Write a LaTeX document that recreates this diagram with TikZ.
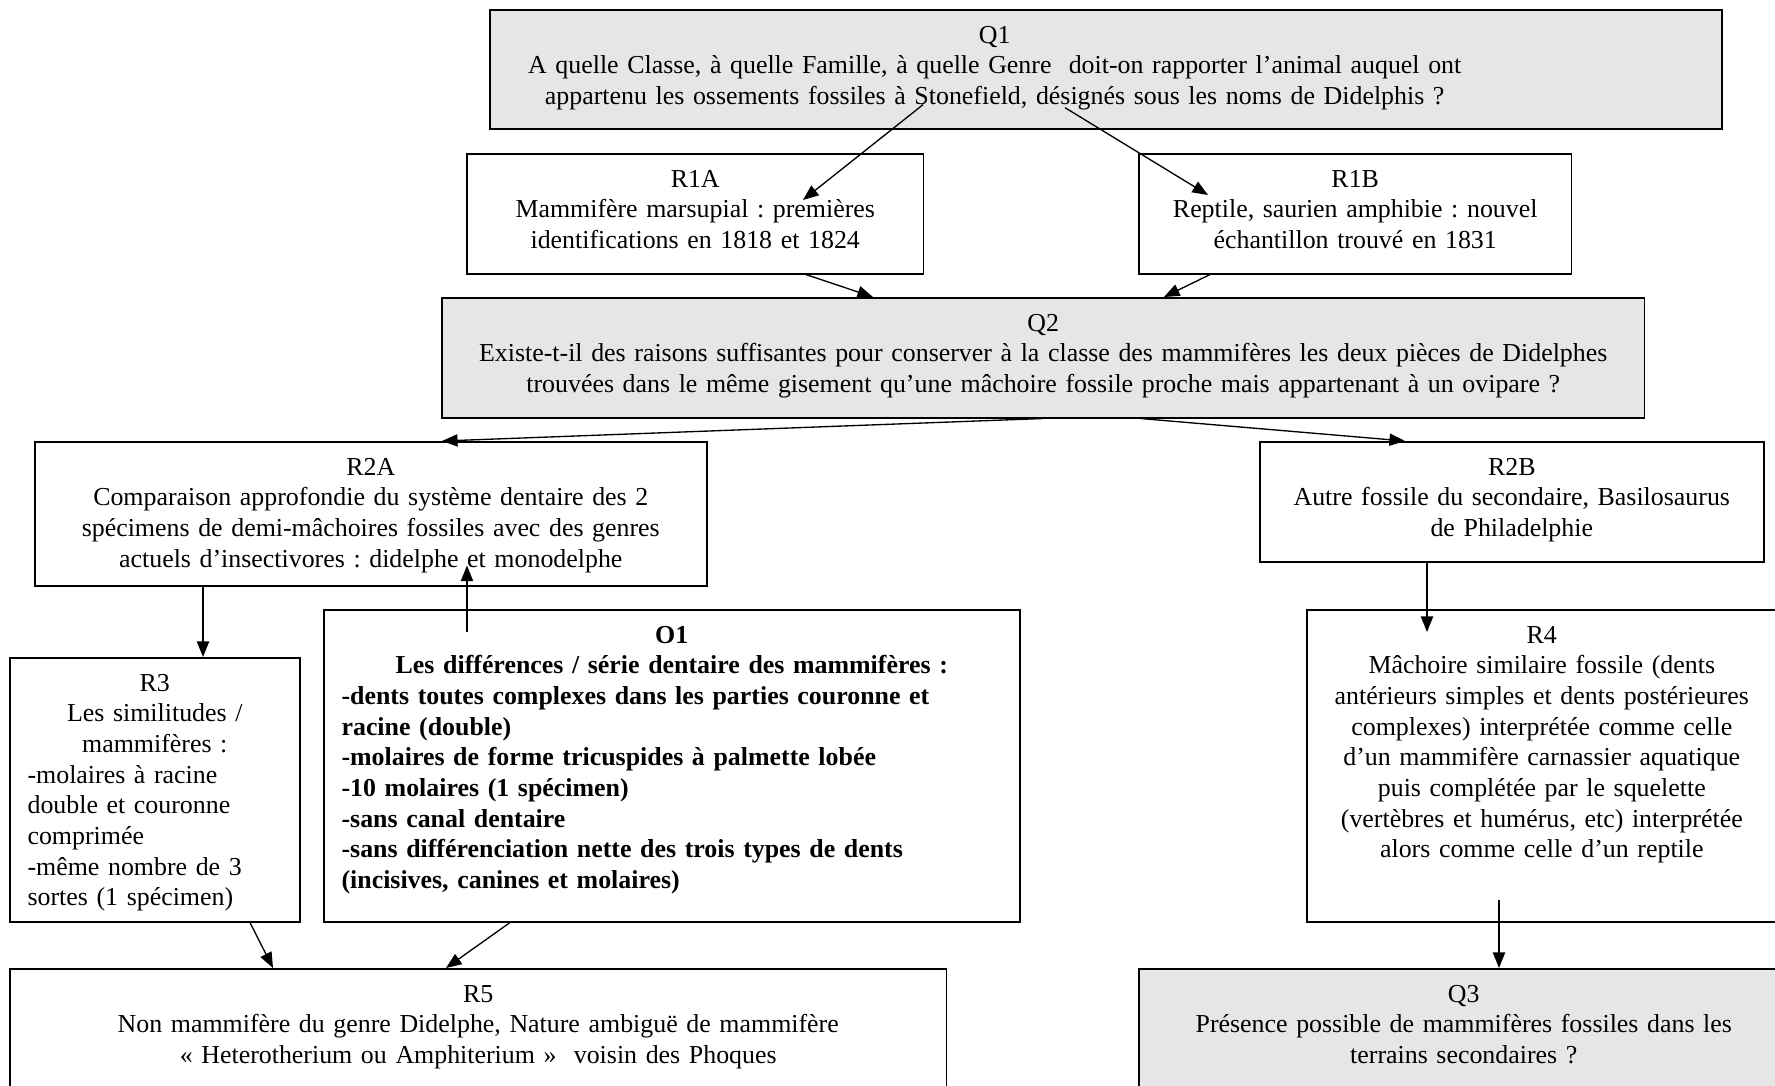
\documentclass[tikz,border=0pt]{standalone}
\usepackage{fontspec}
\setmainfont{Liberation Serif}
\usepackage{tikz}
\usetikzlibrary{arrows.meta}
\definecolor{qgray}{RGB}{230,230,230}
\frenchspacing

\begin{document}
\begin{tikzpicture}[
  x=0.45pt, y=-0.45pt,
  box/.style={draw, line width=0.7pt, anchor=north west, inner xsep=8pt,
              inner ysep=0pt, text height=15pt, align=center,
              font=\fontsize{11.65}{13.8}\selectfont},
  qbox/.style={box, fill=qgray},
  arr/.style={-{Triangle[length=7pt,width=5.5pt]}, line width=0.6pt},
]
\useasboundingbox (0,0) rectangle (1775,1086);
\clip (0,0) rectangle (1775,1086);

% questions and answers
\node[qbox, text width=538.4pt, text depth=38.6pt] (q1) at (489,9)
  {\leftskip=0pt plus 1fil\relax\rightskip=100pt plus 1fil\relax\parfillskip=0pt\relax
   Q1\\A quelle Classe, à quelle Famille, à quelle Genre~ doit-on rapporter l’animal auquel ont\\
   appartenu les ossements fossiles à Stonefield, désignés sous les noms de Didelphis ?\par};
\node[box, text width=189.6pt, text depth=39pt] (r1a) at (466,153)
  {R1A\\Mammifère marsupial : premières\\identifications en 1818 et 1824};
\node[box, text width=178.8pt, text depth=39pt] (r1b) at (1138,153)
  {R1B\\Reptile, saurien amphibie : nouvel\\échantillon trouvé en 1831};
\node[qbox, text width=525.3pt, text depth=39pt] (q2) at (441,297)
  {Q2\\Existe-t-il des raisons suffisantes pour conserver à la classe des mammifères les deux pièces de Didelphes\\
   trouvées dans le même gisement qu’une mâchoire fossile proche mais appartenant à un ovipare ?};
\node[box, text width=286.4pt, text depth=49.8pt] (r2a) at (34,441)
  {R2A\\Comparaison approfondie du système dentaire des 2\\
   spécimens de demi-mâchoires fossiles avec des genres\\
   actuels d’insectivores : didelphe et monodelphe};
\node[box, text width=210.8pt, text depth=39pt] (r2b) at (1259,441)
  {R2B\\Autre fossile du secondaire, Basilosaurus\\de Philadelphie};
\node[box, text width=114.5pt, text depth=103.8pt] (r3) at (9,657)
  {R3\\Les similitudes /\\mammifères :\par\raggedright
   -molaires à racine\\double et couronne\\comprimée\\-même nombre de 3\\sortes (1 spécimen)\par};
\node[box, text width=297.2pt, text depth=125.4pt, font=\fontsize{11.65}{13.8}\selectfont\bfseries] (o1) at (323,609)
  {O1\\Les différences / série dentaire des mammifères :\par\raggedright
   -dents toutes complexes dans les parties couronne et\\racine (double)\\
   -molaires de forme tricuspides à palmette lobée\\-10 molaires (1 spécimen)\\
   -sans canal dentaire\\-sans différenciation nette des trois types de dents\\
   (incisives, canines et molaires)\par};
\node[box, text width=195.5pt, text depth=125.4pt] (r4) at (1306,609)
  {R4\\Mâchoire similaire fossile (dents\\antérieurs simples et dents postérieures\\
   complexes) interprétée comme celle\\d’un mammifère carnassier aquatique\\
   puis complétée par le squelette\\(vertèbres et humérus, etc) interprétée\\
   alors comme celle d’un reptile};
\node[box, text width=405.6pt, text depth=53pt] (r5) at (9,968)
  {R5\\Non mammifère du genre Didelphe, Nature ambiguë de mammifère\\
   « Heterotherium ou Amphiterium »~ voisin des Phoques};
\node[qbox, text width=276.5pt, text depth=53pt] (q3) at (1138,968)
  {Q3\\Présence possible de mammifères fossiles dans les\\terrains secondaires ?};

% links
\draw[arr] ([shift={(434,-25)}]q1.south west) -- ([shift={(337,47)}]r1a.north west);
\draw[arr] ([shift={(576,-22)}]q1.south west) -- ([shift={(70,42)}]r1b.north west);
\draw[arr] ([shift={(340,0)}]r1a.south west) -- ([shift={(432,0)}]q2.north west);
\draw[arr] ([shift={(72,0)}]r1b.south west) -- ([shift={(723,0)}]q2.north west);
\draw[arr] ([shift={(601,0)}]q2.south west) -- ([shift={(408,0)}]r2a.north west);
\draw[arr] ([shift={(700,0)}]q2.south west) -- ([shift={(146,0)}]r2b.north west);
\draw[arr] ([shift={(169,0)}]r2a.south west) -- ([shift={(194,0)}]r3.north west);
\draw[arr] ([shift={(144,23)}]o1.north west) -- ([shift={(433,-21)}]r2a.south west);
\draw[arr] ([shift={(168,0)}]r2b.south west) -- ([shift={(121,23)}]r4.north west);
\draw[arr] ([shift={(193,-23)}]r4.south west) -- ([shift={(361,0)}]q3.north west);
\draw[arr] ([shift={(241,0)}]r3.south west) -- ([shift={(264,0)}]r5.north west);
\draw[arr] ([shift={(187,0)}]o1.south west) -- ([shift={(437,0)}]r5.north west);
\end{tikzpicture}
\end{document}
